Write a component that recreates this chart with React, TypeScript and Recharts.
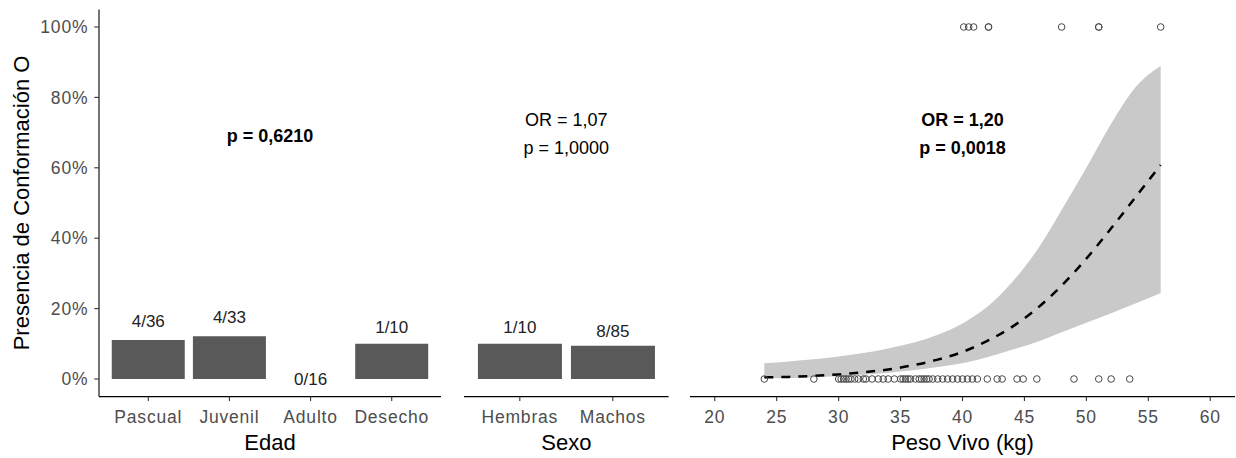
import React from 'react';
import { ComposedChart, Bar, Scatter, Line, Area, XAxis, YAxis, ReferenceLine } from 'recharts';

// Edad
const edadCats = ['Pascual', 'Juvenil', 'Adulto', 'Desecho'];
const edadPos = [4, 4, 0, 1];
const edadN = [36, 33, 16, 10];
const edadLabelY = [0.162, 0.176, 0.0, 0.145];

// Sexo
const sexoCats = ['Hembras', 'Machos'];
const sexoPos = [1, 8];
const sexoN = [10, 85];
const sexoLabelY = [0.145, 0.134];

// Peso vivo: curva ajustada e intervalo
const pesoKg = [24, 26, 28, 30, 32, 34, 36, 38, 40, 42, 44, 46, 48, 50, 52, 54, 56];
const pesoFit = [0.005, 0.006, 0.009, 0.013, 0.019, 0.027, 0.039, 0.055, 0.077, 0.108, 0.148, 0.2, 0.265, 0.342, 0.428, 0.518, 0.608];
const pesoLower = [0.002, 0.003, 0.005, 0.008, 0.012, 0.018, 0.025, 0.034, 0.045, 0.062, 0.083, 0.105, 0.133, 0.16, 0.187, 0.215, 0.244];
const pesoUpper = [0.045, 0.05, 0.056, 0.064, 0.074, 0.087, 0.103, 0.126, 0.158, 0.205, 0.275, 0.365, 0.48, 0.6, 0.725, 0.83, 0.89];

const pesoSi = [40.1, 40.5, 40.9, 42.1, 42.1, 48, 51, 51, 56];
const pesoNo = [24, 28, 30, 30.2, 30.4, 30.6, 30.8, 31, 31.3, 31.6, 32, 32.2, 32.7, 33.2, 33.6, 34, 34.5, 35, 35.2,
  35.4, 35.6, 35.8, 36.2, 36.5, 36.7, 36.9, 37.1, 37.3, 37.6, 38, 38.4, 38.8, 39.2, 39.6, 40, 40.4, 40.8, 41.2,
  42, 42.8, 43.2, 44.4, 44.9, 46, 49, 51, 52, 53.5];

const yTicks = [0, 0.2, 0.4, 0.6, 0.8, 1];
const pesoTicks = [20, 25, 30, 35, 40, 45, 50, 55, 60];

const edadData = edadCats.map((cat, i) => ({
  cat, prop: edadPos[i] / edadN[i], labelY: edadLabelY[i], label: `${edadPos[i]}/${edadN[i]}`,
}));
const sexoData = sexoCats.map((cat, i) => ({
  cat, prop: sexoPos[i] / sexoN[i], labelY: sexoLabelY[i], label: `${sexoPos[i]}/${sexoN[i]}`,
}));
const curveData = pesoKg.map((kg, i) => ({ kg, fit: pesoFit[i], band: [pesoLower[i], pesoUpper[i]] }));
const pointData = [
  ...pesoSi.map(kg => ({ kg, p: 1 })),
  ...pesoNo.map(kg => ({ kg, p: 0 })),
];

const FONT = '"Liberation Sans", Arial, sans-serif';
const Y_DOMAIN: [number, number] = [-0.05, 1.05];
const margin = { top: 9.4, bottom: 31.4 };
const tickStyle = { fill: '#4D4D4D', fontSize: 17.5, letterSpacing: 0.8 };
const axisLine = { stroke: '#000', strokeWidth: 1.1 };
const tickLine = { stroke: '#333', strokeWidth: 1.1 };

const xTitle = (value: string) => ({
  value, position: 'bottom' as const, offset: 8, fill: '#000', fontSize: 22,
});

const annot = (value: string, bold: boolean) => ({
  value, position: 'center' as const, fill: '#000', fontSize: 18, fontWeight: bold ? 'bold' : 'normal',
});

const YTitle = (props: any) => {
  const vb = props.viewBox || { y: 9.4, height: 387.2 };
  const cx = 21;
  const cy = vb.y + vb.height / 2;
  return (
    <text x={cx} y={cy} transform={`rotate(-90 ${cx} ${cy})`} textAnchor="middle"
      dominantBaseline="central" fontSize={22} fill="#000">
      Presencia de Conformación O
    </text>
  );
};

const CountLabel = (props: any) => {
  const { cx, cy, payload } = props;
  return (
    <text x={cx} y={cy} textAnchor="middle" dominantBaseline="central" fontSize={17} fill="#222">
      {payload.label}
    </text>
  );
};

const OpenCircle = (props: any) => {
  const { cx, cy } = props;
  return <circle cx={cx} cy={cy} r={3.3} fill="none" stroke="#4a4a4a" strokeWidth={1} />;
};

export default function App() {
  return (
    <div style={{ position: 'absolute', left: 0, top: 0, width: 1236, height: 458, background: '#fff', fontFamily: FONT }}>
      <div style={{ position: 'absolute', left: 0, top: 0 }}>
        <ComposedChart width={441} height={458} data={edadData} barCategoryGap="5%"
          margin={{ ...margin, left: 0, right: 0 }}>
          <XAxis dataKey="cat" type="category" interval={0} padding={{ left: 8.7, right: 8.7 }} height={30}
            tickSize={4.5} tickMargin={9} tick={tickStyle} axisLine={axisLine} tickLine={tickLine}
            label={xTitle('Edad')} />
          <YAxis type="number" domain={Y_DOMAIN} allowDataOverflow ticks={yTicks} width={99}
            tickFormatter={(v: number) => `${Math.round(v * 100)}%`} tickSize={4.7} tickMargin={6}
            tick={tickStyle} axisLine={axisLine} tickLine={tickLine} label={<YTitle />} />
          <ReferenceLine y={0.691} stroke="none" label={annot('p = 0,6210', true)} />
          <Bar dataKey="prop" fill="#595959" isAnimationActive={false} />
          <Scatter dataKey="labelY" shape={<CountLabel />} isAnimationActive={false} />
        </ComposedChart>
      </div>

      <div style={{ position: 'absolute', left: 441, top: 0 }}>
        <ComposedChart width={236} height={458} data={sexoData} barCategoryGap="5%"
          margin={{ ...margin, left: 23, right: 8.4 }}>
          <XAxis dataKey="cat" type="category" interval={0} padding={{ left: 9.3, right: 9.3 }} height={30}
            tickSize={4.5} tickMargin={9} tick={tickStyle} axisLine={axisLine} tickLine={tickLine}
            label={xTitle('Sexo')} />
          <YAxis hide type="number" domain={Y_DOMAIN} allowDataOverflow />
          <ReferenceLine y={0.736} stroke="none" label={annot('OR = 1,07', false)} />
          <ReferenceLine y={0.658} stroke="none" label={annot('p = 1,0000', false)} />
          <Bar dataKey="prop" fill="#595959" isAnimationActive={false} />
          <Scatter dataKey="labelY" shape={<CountLabel />} isAnimationActive={false} />
        </ComposedChart>
      </div>

      <div style={{ position: 'absolute', left: 677, top: 0 }}>
        <ComposedChart width={559} height={458} data={curveData}
          margin={{ ...margin, left: 13, right: 1 }}>
          <XAxis dataKey="kg" type="number" domain={[18, 62]} allowDataOverflow ticks={pesoTicks} height={30}
            tickSize={4.5} tickMargin={9} tick={tickStyle} axisLine={axisLine} tickLine={tickLine}
            label={xTitle('Peso Vivo (kg)')} />
          <YAxis hide type="number" domain={Y_DOMAIN} allowDataOverflow />
          <ReferenceLine y={0.736} stroke="none" label={annot('OR = 1,20', true)} />
          <ReferenceLine y={0.658} stroke="none" label={annot('p = 0,0018', true)} />
          <Area dataKey="band" type="monotone" fill="#C9C9C9" fillOpacity={1} stroke="none"
            isAnimationActive={false} />
          <Scatter data={pointData} dataKey="p" shape={<OpenCircle />} isAnimationActive={false} />
          <Line dataKey="fit" type="monotone" stroke="#000" strokeWidth={2.5} strokeDasharray="9 8"
            dot={false} isAnimationActive={false} />
        </ComposedChart>
      </div>
    </div>
  );
}
